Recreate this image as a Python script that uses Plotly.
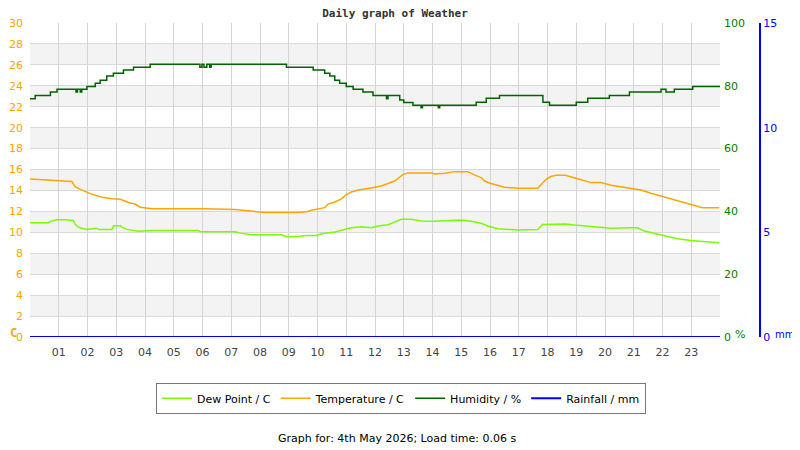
import plotly.graph_objects as go

# hours of day and readings
temp_hours = [0, 0.88, 1.46, 1.51, 1.57, 1.75, 1.92, 2.09, 2.33, 2.5, 2.85, 3.14, 3.31, 3.48,
              3.66, 3.83, 4.24, 6.09, 7.13, 7.53, 8.17, 9.33, 9.62, 9.79, 10.02, 10.25, 10.37,
              10.6, 10.83, 11.0, 11.18, 11.41, 11.76, 11.99, 12.22, 12.45, 12.68, 12.8, 12.97,
              13.15, 13.96, 14.07, 14.42, 14.77, 15.23, 15.46, 15.69, 15.81, 16.0, 16.5, 16.97,
              17.66, 17.78, 17.95, 18.12, 18.3, 18.62, 18.85, 19.2, 19.51, 19.86, 20.21, 20.9,
              21.25, 21.6, 22.06, 22.52, 22.99, 23.39, 23.97]
temperature = [15.1, 14.95, 14.85, 14.6, 14.37, 14.1, 13.9, 13.7, 13.5, 13.35, 13.2, 13.15, 12.97,
               12.8, 12.7, 12.4, 12.26, 12.26, 12.17, 12.04, 11.9, 11.9, 11.97, 12.1, 12.2, 12.36,
               12.7, 12.9, 13.2, 13.6, 13.86, 14.05, 14.18, 14.27, 14.43, 14.66, 14.9, 15.14,
               15.52, 15.68, 15.68, 15.58, 15.65, 15.8, 15.8, 15.49, 15.23, 14.9, 14.69, 14.3,
               14.2, 14.2, 14.6, 15.07, 15.33, 15.46, 15.46, 15.3, 15.0, 14.75, 14.75, 14.5,
               14.24, 14.05, 13.73, 13.38, 13.0, 12.7, 12.36, 12.36]

dew_hours = [0, 0.65, 0.71, 0.93, 1.22, 1.51, 1.57, 1.68, 1.86, 1.98, 2.3, 2.4, 2.85, 2.9, 3.14,
             3.2, 3.37, 3.77, 4.24, 5.86, 5.91, 7.13, 7.36, 7.71, 8.75, 8.9, 9.33, 9.62, 9.97,
             10.14, 10.6, 10.95, 11.18, 11.53, 11.88, 12.1, 12.45, 12.68, 12.91, 13.26, 13.61,
             14.07, 14.54, 15.0, 15.35, 15.69, 15.92, 16.1, 16.27, 16.97, 17.66, 17.83, 18.3,
             18.62, 18.93, 19.51, 20.21, 20.9, 21.13, 21.37, 22.06, 22.52, 22.99, 23.97]
dew_point = [10.92, 10.92, 11.05, 11.2, 11.2, 11.14, 10.76, 10.5, 10.35, 10.28, 10.4, 10.28, 10.28,
             10.63, 10.63, 10.5, 10.28, 10.1, 10.18, 10.18, 10.06, 10.06, 9.9, 9.77, 9.77, 9.6,
             9.6, 9.7, 9.7, 9.87, 10.03, 10.28, 10.44, 10.54, 10.44, 10.6, 10.73, 10.98, 11.24,
             11.24, 11.08, 11.05, 11.12, 11.18, 11.05, 10.86, 10.6, 10.5, 10.35, 10.22, 10.28,
             10.76, 10.8, 10.8, 10.7, 10.54, 10.38, 10.44, 10.44, 10.12, 9.7, 9.39, 9.23, 9.0]

hum_hours = [0, 0.18, 0.71, 0.94, 1.6, 1.65, 1.75, 1.8, 1.98, 2.27, 2.44, 2.67, 2.9, 3.25, 3.6,
             4.18, 5.91, 5.98, 6.05, 6.15, 6.25, 6.3, 8.92, 9.85, 10.25, 10.43, 10.6, 10.77, 11.0,
             11.24, 11.58, 11.93, 12.4, 12.45, 12.86, 13.0, 13.32, 13.6, 13.65, 14.2, 14.25,
             15.52, 15.87, 16.33, 17.84, 18.07, 19.0, 19.4, 20.15, 20.85, 21.95, 22.12, 22.41,
             23.05, 24]
humidity = [75.9, 76.9, 78.0, 78.9, 78.0, 78.9, 78.0, 78.9, 79.8, 80.8, 81.8, 83.1, 84.0, 85.0,
            85.9, 86.9, 85.9, 86.9, 85.9, 86.9, 85.9, 86.9, 85.9, 85.0, 84.0, 83.1, 81.8, 80.8,
            79.8, 78.9, 78.0, 76.9, 75.9, 76.9, 75.5, 74.7, 73.8, 73.0, 73.8, 73.0, 73.8,
            74.8, 76.0, 76.9, 74.8, 73.8, 74.8, 76.0, 76.9, 78.0, 78.9, 78.0, 78.9, 79.8, 79.8]

rain_hours = [0, 24]
rainfall = [0, 0]

hour_labels = ["%02d" % h for h in range(1, 24)]

fig = go.Figure()
fig.add_trace(go.Scatter(x=dew_hours, y=dew_point, name="Dew Point / C", mode="lines",
                         line=dict(color="#7CFC00", width=1.5)))
fig.add_trace(go.Scatter(x=temp_hours, y=temperature, name="Temperature / C", mode="lines",
                         line=dict(color="#FFA500", width=1.5)))
fig.add_trace(go.Scatter(x=hum_hours, y=humidity, name="Humidity / %", mode="lines", yaxis="y2",
                         line=dict(color="#006400", width=1.5, shape="hv")))
fig.add_trace(go.Scatter(x=rain_hours, y=rainfall, name="Rainfall / mm", mode="lines", yaxis="y3",
                         line=dict(color="#0000FF", width=2), cliponaxis=False))

# alternating grey bands behind the plot
for lo in range(2, 30, 4):
    fig.add_shape(type="rect", xref="x", yref="y", x0=0, x1=24, y0=lo, y1=lo + 2,
                  fillcolor="#f3f3f3", line_width=0, layer="below")

# the page body has an 8px margin, so the figure is laid out 8px up/left
fig.update_layout(
    width=800, height=450,
    margin=dict(l=22, r=48, t=15, b=121),
    paper_bgcolor="white", plot_bgcolor="white",
    title=dict(text="<b>Daily graph of Weather</b>", x=0.5, xref="paper", xanchor="center",
               y=1 - 5 / 450, yanchor="middle",
               font=dict(family="DejaVu Sans Mono", size=11, color="#333")),
    xaxis=dict(domain=[0, 690 / 730], range=[0, 24], tickmode="array",
               tickvals=list(range(1, 24)), ticktext=hour_labels, automargin=False,
               showgrid=True, gridcolor="#d3d3d3", gridwidth=1, zeroline=False,
               showline=False, ticks="", tickfont=dict(family="DejaVu Sans", size=11, color="#444"),
               ticklabelstandoff=7),
    yaxis=dict(range=[0, 30], dtick=2, showgrid=True, gridcolor="#d9d9d9", zeroline=False,
               tickfont=dict(family="DejaVu Sans", size=11, color="#FFA500"), ticks="",
               showline=False, automargin=False, ticklabelstandoff=6),
    yaxis2=dict(range=[0, 100], dtick=20, overlaying="y", side="right", anchor="x",
                showgrid=False, zeroline=False, ticks="", automargin=False,
                ticklabelstandoff=3,
                tickfont=dict(family="DejaVu Sans", size=11, color="green")),
    yaxis3=dict(range=[0, 15], dtick=5, overlaying="y", side="right", anchor="free",
                position=1.0, showgrid=False, zeroline=False, showline=True,
                linecolor="#0000FF", linewidth=2, ticks="", automargin=False,
                tickfont=dict(family="DejaVu Sans", size=11, color="#0000FF")),
    legend=dict(orientation="h", x=(401 - 30) / 730, xanchor="center", y=-0.146,
                yanchor="top", bordercolor="#777", borderwidth=1,
                font=dict(family="DejaVu Sans", size=11, color="black"),
                itemwidth=30),
    showlegend=True,
)

fig.add_annotation(text="<b>C</b>", xref="paper", yref="paper", x=-22 / 730,
                   y=(337 - 333) / 314, xanchor="left", yanchor="middle",
                   showarrow=False, font=dict(family="DejaVu Sans Mono", size=12, color="#FFA500"))
fig.add_annotation(text="%", xref="paper", yref="paper", x=(740 - 30) / 730,
                   y=(337 - 334) / 314, xanchor="center", yanchor="middle",
                   showarrow=False, font=dict(family="DejaVu Sans", size=11, color="green"))
fig.add_annotation(text="mm", xref="paper", yref="paper", x=(773 - 30) / 730,
                   y=(337 - 334) / 314, xanchor="left", yanchor="middle",
                   showarrow=False, font=dict(family="DejaVu Sans", size=10, color="#0000FF"))
fig.add_annotation(text="Graph for: 4th May 2026; Load time: 0.06 s", xref="paper", yref="paper",
                   x=(397 - 30) / 730, y=(337 - 438) / 314, xanchor="center", yanchor="middle",
                   showarrow=False, font=dict(family="DejaVu Sans", size=11, color="black"))

fig.write_html("out.html")
